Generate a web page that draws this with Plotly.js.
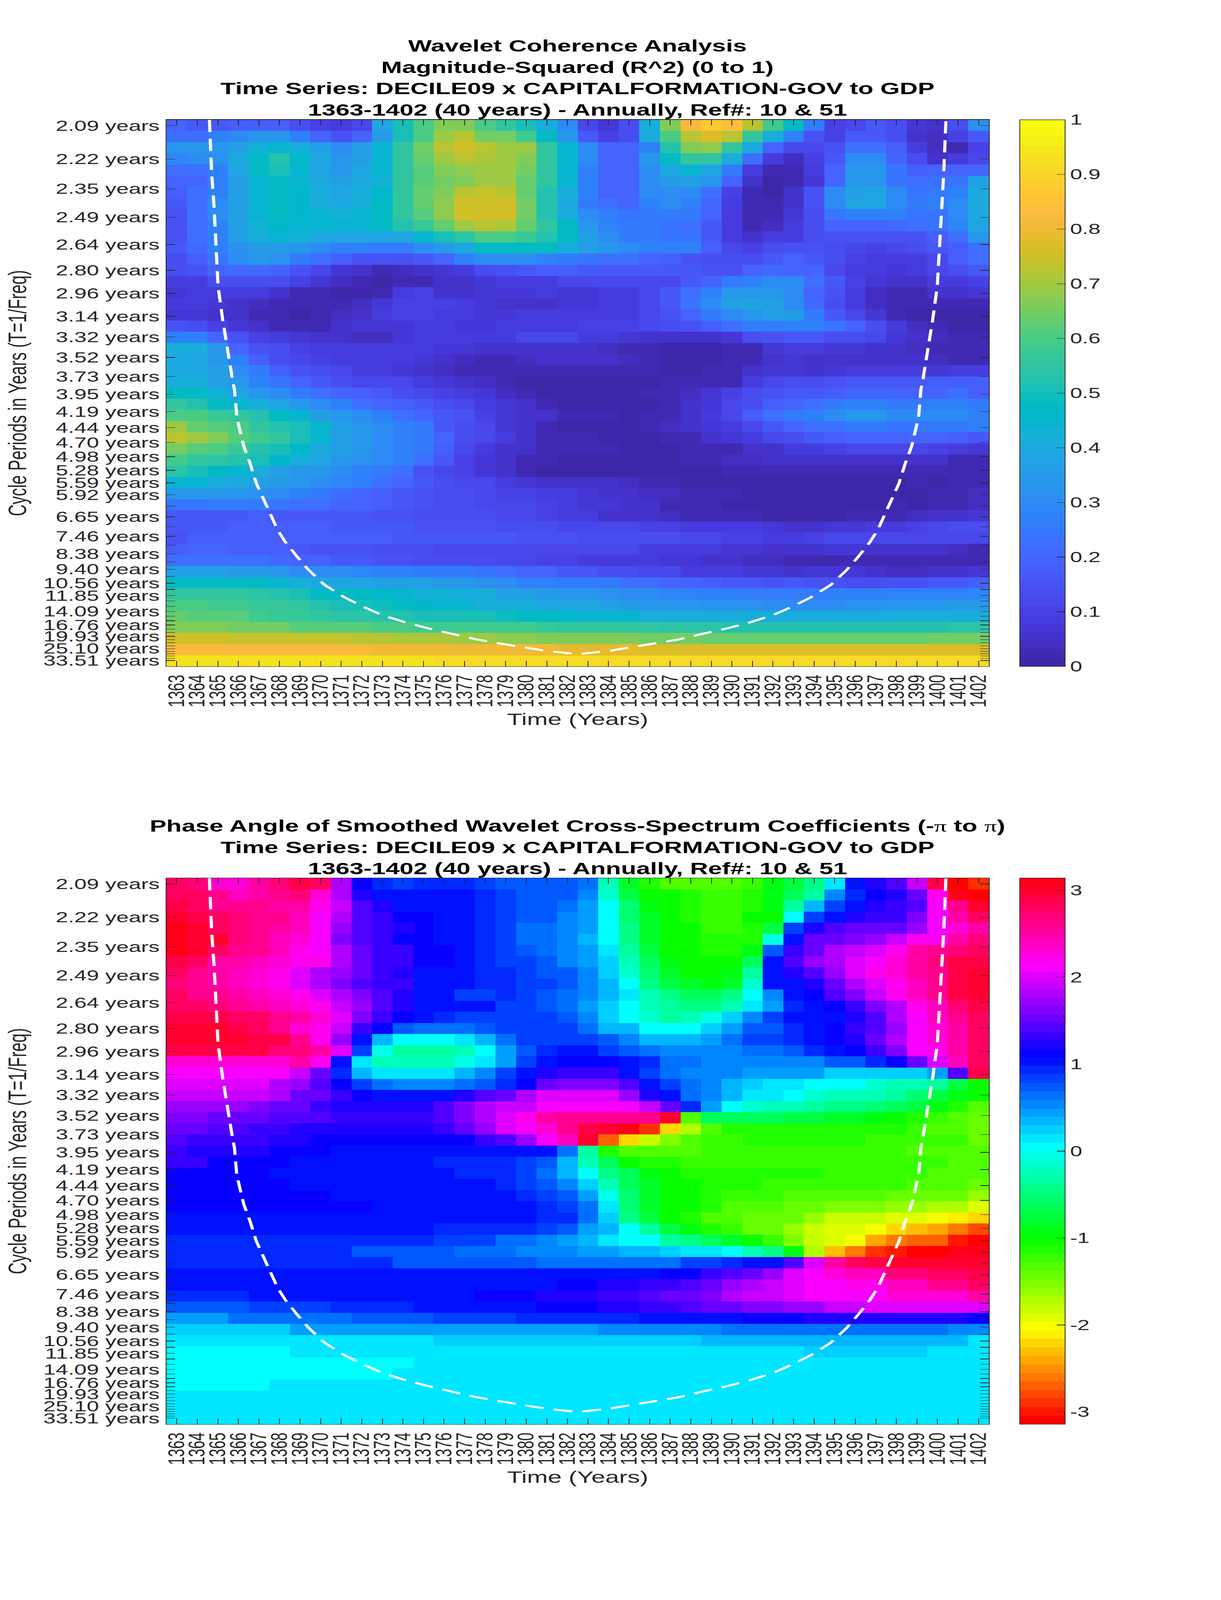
<!DOCTYPE html>
<html><head><meta charset="utf-8">
<script src="https://cdn.plot.ly/plotly-3.0.0.min.js"></script>
<style>html,body{margin:0;padding:0;background:#fff;overflow:hidden}#chart{transform-origin:0 0}</style></head>
<body><div id="chart" style="width:3125px;height:6252px"></div>
<script>
const years=[1363,1364,1365,1366,1367,1368,1369,1370,1371,1372,1373,1374,1375,1376,1377,1378,1379,1380,1381,1382,1383,1384,1385,1386,1387,1388,1389,1390,1391,1392,1393,1394,1395,1396,1397,1398,1399,1400,1401,1402];
const periodTicks=[2.09,2.22,2.35,2.49,2.64,2.80,2.96,3.14,3.32,3.52,3.73,3.95,4.19,4.44,4.70,4.98,5.28,5.59,5.92,6.27,6.65,7.04,7.46,7.90,8.38,8.88,9.40,9.96,10.56,11.18,11.85,12.55,13.30,14.09,14.93,15.82,16.76,17.76,18.81,19.93,21.11,22.37,23.70,25.10,26.59,28.17,29.85,31.62,33.51];
const unlabelled=[6.27,7.04,7.90,8.88,9.96,11.18,12.55,13.30,14.93,15.82,17.76,18.81,21.11,22.37,23.70,26.59,28.17,29.85,31.62];
const rowFreq=[.4787,.4694,.4600,.4506,.4413,.4319,.4226,.4132,.4038,.3945,.3851,.3758,.3664,.3570,.3477,.3383,.3290,.3196,.3103,.3009,.2915,.2822,.2728,.2635,.2541,.2447,.2354,.2260,.2167,.2073,.1979,.1886,.1792,.1699,.1605,.1511,.1418,.1324,.1231,.1137,.1043,.0950,.0856,.0763,.0669,.0575,.0482,.0388,.0295];
const coiYears=[1364.59,1364.70,1364.82,1364.89,1365.01,1365.24,1365.50,1365.73,1365.81,1365.92,1366.26,1366.57,1366.87,1367.14,1367.52,1367.90,1368.28,1368.85,1369.42,1370.18,1371.13,1372.08,1373.03,1374.17,1375.31,1376.45,1377.59,1378.73,1379.87,1381.01,1382.5,1383.99,1385.13,1386.27,1387.41,1388.55,1389.69,1390.83,1391.97,1392.92,1393.87,1394.82,1395.58,1396.15,1396.72,1397.10,1397.48,1397.86,1398.13,1398.43,1398.74,1399.08,1399.19,1399.27,1399.50,1399.76,1399.99,1400.11,1400.18,1400.30,1400.41];
const coiFreq=[.4834,.4379,.4091,.3804,.3439,.3151,.2864,.2634,.2568,.2340,.2095,.1951,.1786,.1683,.1539,.1396,.1293,.1170,.1057,.0934,.0831,.0749,.0677,.0616,.0565,.0522,.0475,.0441,.0411,.0378,.0352,.0378,.0411,.0441,.0475,.0522,.0565,.0616,.0677,.0749,.0831,.0934,.1057,.1170,.1293,.1396,.1539,.1683,.1786,.1951,.2095,.2340,.2568,.2634,.2864,.3151,.3439,.3804,.4091,.4379,.4834];
const coherence=[
[.2,.17,.17,.18,.18,.18,.14,.1,.08,.12,.38,.5,.6,.67,.67,.6,.55,.5,.42,.3,.12,.07,.14,.42,.67,.82,.87,.84,.72,.58,.47,.25,.1,.12,.16,.14,.07,.06,.13,.32],
[.22,.22,.27,.3,.33,.33,.28,.2,.15,.2,.35,.5,.6,.7,.72,.65,.65,.58,.48,.33,.17,.1,.13,.42,.6,.72,.78,.72,.55,.42,.27,.15,.1,.17,.16,.13,.05,.04,.1,.16],
[.33,.33,.33,.37,.43,.45,.42,.37,.31,.36,.45,.55,.65,.72,.75,.72,.7,.69,.55,.45,.3,.2,.2,.27,.53,.66,.68,.55,.4,.2,.11,.11,.15,.23,.23,.18,.09,.04,.03,.1],
[.29,.3,.32,.4,.48,.52,.46,.38,.33,.36,.45,.55,.64,.7,.72,.71,.7,.67,.56,.45,.3,.2,.2,.33,.47,.56,.55,.42,.22,.09,.04,.1,.17,.3,.3,.2,.13,.06,.08,.12],
[.22,.22,.28,.38,.47,.5,.45,.38,.34,.38,.45,.55,.62,.66,.68,.7,.7,.65,.56,.45,.28,.2,.2,.3,.4,.45,.38,.25,.09,.02,.02,.09,.2,.33,.33,.24,.18,.2,.2,.2],
[.2,.2,.27,.36,.45,.47,.45,.4,.37,.4,.43,.56,.62,.65,.67,.7,.7,.64,.56,.44,.28,.2,.2,.3,.35,.36,.33,.2,.06,.01,.02,.07,.2,.33,.34,.24,.22,.22,.24,.37],
[.18,.22,.28,.36,.44,.47,.46,.42,.38,.42,.46,.56,.63,.67,.72,.74,.72,.64,.53,.42,.28,.2,.2,.3,.3,.3,.22,.1,.03,.01,.05,.15,.3,.37,.38,.3,.24,.25,.28,.4],
[.16,.23,.3,.37,.45,.47,.46,.42,.4,.42,.48,.56,.63,.68,.75,.76,.75,.65,.53,.4,.26,.22,.2,.27,.3,.27,.2,.08,.02,.02,.06,.15,.3,.38,.38,.3,.25,.27,.3,.4],
[.15,.22,.3,.37,.44,.47,.46,.45,.43,.44,.48,.55,.62,.68,.75,.76,.75,.65,.53,.42,.3,.27,.24,.25,.26,.25,.19,.08,.03,.03,.07,.14,.24,.27,.27,.27,.24,.24,.3,.4],
[.15,.22,.28,.36,.43,.46,.45,.45,.44,.45,.48,.52,.57,.63,.7,.72,.71,.64,.55,.48,.33,.27,.25,.25,.24,.23,.17,.08,.03,.04,.08,.14,.19,.2,.2,.21,.22,.24,.29,.38],
[.15,.22,.28,.36,.42,.45,.43,.4,.38,.38,.38,.38,.44,.5,.54,.6,.6,.57,.53,.47,.36,.3,.26,.25,.24,.24,.17,.09,.05,.09,.09,.13,.15,.15,.15,.15,.15,.18,.23,.33],
[.17,.21,.27,.32,.35,.35,.33,.3,.28,.28,.26,.26,.3,.35,.4,.47,.48,.47,.47,.42,.36,.33,.3,.28,.27,.27,.18,.12,.1,.13,.15,.15,.13,.12,.1,.11,.13,.16,.18,.22],
[.14,.18,.24,.3,.33,.32,.26,.22,.18,.15,.15,.15,.17,.2,.27,.31,.31,.3,.28,.26,.24,.23,.22,.2,.18,.15,.13,.13,.14,.17,.2,.17,.14,.1,.09,.08,.09,.12,.18,.22],
[.13,.15,.2,.21,.21,.19,.15,.11,.07,.05,.03,.04,.06,.07,.09,.13,.15,.17,.18,.18,.17,.16,.16,.16,.16,.16,.15,.15,.2,.21,.2,.19,.12,.09,.08,.07,.08,.12,.13,.16],
[.08,.09,.13,.13,.14,.13,.1,.07,.04,.02,.01,.02,.03,.05,.06,.07,.08,.09,.09,.11,.11,.11,.12,.11,.12,.16,.2,.25,.28,.3,.3,.22,.16,.1,.07,.05,.05,.08,.09,.1],
[.07,.08,.09,.09,.08,.05,.03,.02,.01,.01,.03,.08,.1,.06,.06,.07,.07,.07,.08,.07,.07,.08,.09,.11,.16,.22,.28,.34,.34,.33,.3,.2,.15,.08,.04,.03,.03,.05,.06,.07],
[.08,.08,.07,.06,.04,.03,.02,.02,.03,.04,.07,.1,.1,.1,.09,.07,.05,.06,.06,.07,.07,.08,.09,.12,.17,.24,.3,.36,.38,.36,.3,.21,.13,.08,.04,.02,.02,.02,.02,.02],
[.07,.07,.06,.05,.03,.02,.01,.02,.04,.06,.08,.1,.1,.09,.08,.07,.07,.08,.08,.08,.08,.08,.09,.12,.15,.19,.26,.3,.34,.36,.35,.25,.17,.11,.07,.02,.01,.01,.01,.01],
[.15,.14,.1,.07,.05,.03,.03,.03,.05,.07,.07,.07,.08,.08,.07,.07,.09,.09,.09,.09,.1,.1,.1,.11,.13,.15,.18,.22,.25,.26,.28,.28,.24,.19,.13,.08,.04,.02,.01,.01],
[.27,.27,.2,.15,.1,.08,.07,.05,.05,.04,.04,.07,.08,.08,.08,.08,.09,.11,.11,.11,.08,.08,.07,.06,.05,.05,.05,.07,.13,.15,.16,.16,.14,.14,.11,.07,.05,.04,.03,.02],
[.42,.42,.34,.2,.15,.13,.1,.09,.08,.08,.08,.08,.08,.07,.07,.06,.06,.05,.05,.05,.05,.04,.03,.02,.01,.01,.01,.02,.03,.07,.08,.08,.07,.07,.06,.05,.04,.03,.03,.03],
[.4,.4,.35,.28,.18,.14,.12,.1,.09,.08,.08,.08,.07,.05,.04,.03,.03,.04,.05,.05,.05,.05,.04,.02,.01,.01,.01,.02,.03,.05,.07,.06,.05,.06,.06,.06,.05,.04,.03,.02],
[.4,.4,.36,.3,.25,.18,.15,.13,.11,.09,.08,.07,.06,.04,.03,.03,.02,.02,.03,.03,.03,.03,.02,.02,.01,.01,.02,.03,.06,.07,.07,.06,.07,.08,.09,.09,.08,.07,.09,.09],
[.41,.41,.37,.33,.28,.24,.2,.17,.13,.12,.11,.11,.09,.07,.06,.04,.02,.01,.01,.01,.01,.01,.01,.01,.02,.02,.02,.03,.09,.11,.13,.14,.15,.17,.17,.17,.17,.18,.18,.18],
[.47,.47,.43,.38,.34,.3,.26,.23,.2,.18,.16,.14,.12,.1,.08,.07,.04,.03,.01,.01,.01,.01,.01,.02,.03,.04,.07,.1,.13,.15,.16,.17,.18,.2,.2,.2,.19,.2,.22,.18],
[.55,.52,.48,.44,.42,.38,.33,.3,.28,.23,.2,.18,.16,.14,.11,.09,.07,.05,.03,.01,.01,.01,.01,.01,.03,.05,.07,.11,.14,.18,.2,.22,.25,.27,.27,.26,.26,.27,.28,.25],
[.6,.6,.57,.55,.52,.47,.44,.37,.33,.3,.27,.22,.19,.16,.15,.1,.07,.05,.05,.03,.02,.02,.01,.02,.03,.05,.08,.12,.18,.22,.25,.27,.3,.33,.33,.3,.3,.3,.3,.27],
[.7,.63,.62,.6,.55,.53,.5,.45,.37,.33,.3,.28,.25,.17,.14,.11,.07,.05,.03,.01,.01,.01,.01,.02,.04,.05,.07,.09,.12,.17,.19,.22,.23,.26,.25,.24,.24,.25,.25,.27],
[.72,.7,.66,.62,.58,.55,.5,.45,.36,.34,.31,.28,.25,.2,.14,.11,.08,.05,.03,.02,.02,.01,.01,.01,.02,.03,.05,.07,.08,.11,.14,.16,.18,.2,.2,.2,.2,.19,.18,.16],
[.65,.62,.6,.57,.53,.5,.46,.4,.36,.34,.31,.28,.25,.18,.11,.08,.06,.05,.03,.02,.02,.02,.01,.01,.01,.02,.02,.03,.05,.06,.08,.08,.1,.11,.11,.11,.11,.1,.09,.07],
[.58,.55,.54,.52,.5,.46,.42,.38,.34,.32,.3,.27,.22,.16,.1,.07,.06,.03,.02,.01,.01,.01,.01,.01,.01,.02,.03,.04,.04,.05,.05,.05,.06,.06,.06,.06,.05,.05,.03,.03],
[.54,.5,.47,.44,.42,.37,.33,.33,.3,.28,.25,.22,.15,.12,.1,.07,.05,.03,.01,.01,.01,.01,.01,.01,.01,.01,.01,.02,.02,.02,.02,.02,.02,.03,.03,.03,.02,.02,.02,.03],
[.44,.44,.42,.4,.37,.35,.33,.3,.29,.27,.23,.2,.17,.14,.12,.11,.08,.07,.06,.05,.06,.05,.04,.03,.02,.01,.01,.01,.01,.01,.01,.01,.01,.01,.01,.01,.02,.01,.02,.03],
[.33,.33,.33,.33,.32,.31,.28,.25,.22,.2,.18,.16,.15,.14,.13,.11,.1,.1,.09,.08,.07,.06,.05,.04,.04,.03,.02,.02,.01,.01,.01,.01,.01,.01,.01,.01,.01,.02,.03,.04],
[.24,.24,.25,.25,.25,.24,.23,.22,.2,.19,.18,.16,.15,.13,.13,.12,.11,.11,.1,.08,.07,.07,.06,.05,.03,.02,.02,.01,.01,.01,.01,.01,.01,.01,.01,.02,.01,.02,.03,.04],
[.16,.16,.17,.17,.18,.17,.17,.17,.16,.16,.15,.15,.14,.14,.13,.13,.12,.11,.1,.09,.08,.06,.06,.05,.04,.02,.02,.02,.02,.01,.01,.01,.01,.02,.03,.03,.04,.05,.06,.07],
[.16,.16,.17,.18,.18,.18,.18,.18,.17,.17,.17,.16,.15,.15,.15,.15,.14,.14,.13,.12,.11,.11,.11,.1,.1,.09,.09,.08,.08,.07,.05,.06,.07,.07,.08,.09,.1,.12,.13,.13],
[.15,.18,.18,.18,.18,.18,.18,.18,.18,.18,.18,.17,.17,.16,.16,.17,.17,.15,.15,.15,.14,.14,.14,.13,.13,.11,.11,.1,.1,.09,.09,.1,.11,.11,.11,.12,.12,.12,.11,.12],
[.18,.19,.19,.18,.18,.18,.17,.15,.15,.15,.14,.14,.13,.12,.12,.12,.12,.11,.11,.11,.11,.11,.11,.09,.09,.08,.08,.07,.07,.06,.06,.06,.07,.07,.06,.06,.05,.05,.04,.03],
[.23,.23,.23,.23,.22,.21,.19,.19,.17,.17,.15,.15,.14,.13,.13,.13,.12,.11,.1,.1,.09,.09,.08,.08,.07,.07,.06,.05,.04,.04,.03,.03,.03,.03,.03,.03,.02,.02,.02,.02],
[.36,.36,.36,.35,.35,.33,.31,.3,.3,.29,.28,.27,.26,.25,.25,.24,.22,.2,.19,.17,.16,.14,.13,.11,.11,.09,.09,.08,.07,.07,.06,.07,.07,.07,.06,.04,.04,.05,.06,.07],
[.47,.47,.47,.47,.47,.45,.42,.39,.38,.38,.37,.37,.36,.35,.34,.32,.3,.28,.27,.26,.25,.25,.23,.22,.2,.19,.18,.17,.16,.15,.16,.15,.15,.14,.14,.15,.15,.16,.17,.18],
[.56,.56,.56,.55,.54,.53,.51,.48,.48,.47,.46,.44,.43,.43,.42,.41,.37,.36,.35,.34,.33,.32,.31,.3,.29,.28,.27,.27,.26,.26,.26,.26,.27,.27,.27,.27,.27,.27,.28,.29],
[.6,.6,.59,.58,.57,.57,.55,.52,.51,.5,.49,.48,.46,.45,.45,.42,.41,.41,.39,.39,.38,.37,.35,.34,.33,.33,.32,.32,.32,.31,.31,.31,.31,.32,.32,.33,.34,.34,.35,.35],
[.63,.61,.61,.61,.59,.57,.57,.55,.54,.54,.53,.52,.51,.5,.5,.5,.49,.48,.47,.46,.45,.44,.44,.42,.42,.42,.42,.42,.42,.42,.41,.41,.41,.41,.41,.41,.42,.42,.42,.42],
[.67,.66,.66,.65,.65,.65,.62,.62,.62,.62,.6,.6,.58,.58,.58,.58,.58,.58,.57,.56,.55,.55,.55,.55,.54,.54,.54,.53,.53,.52,.52,.52,.52,.52,.52,.52,.52,.53,.54,.54],
[.75,.75,.75,.74,.74,.74,.74,.74,.74,.72,.72,.71,.71,.71,.7,.69,.68,.68,.67,.66,.66,.66,.66,.65,.65,.65,.64,.64,.64,.64,.64,.64,.64,.63,.63,.63,.63,.65,.65,.65],
[.82,.82,.82,.82,.82,.82,.82,.82,.82,.82,.81,.81,.8,.8,.8,.8,.8,.8,.8,.79,.79,.79,.79,.78,.78,.78,.78,.78,.78,.78,.78,.77,.77,.77,.78,.78,.78,.78,.78,.78],
[.93,.93,.93,.93,.93,.93,.93,.93,.93,.93,.93,.93,.93,.92,.92,.92,.92,.92,.92,.91,.91,.91,.91,.91,.91,.91,.91,.91,.91,.91,.91,.91,.91,.91,.91,.91,.91,.91,.91,.91]
];
const phase=[
[2.75,2.7,2.3,2.3,2.5,2.7,2.9,2.8,1.85,1.1,.9,.8,.9,.9,.9,.8,.75,.75,.75,.75,.6,-.2,-.85,-1.15,-1.3,-1.3,-1.3,-1.3,-1.25,-.9,-.7,-.45,.1,1.0,1.25,1.4,1.9,2.85,-3.05,-2.9],
[2.8,2.75,2.6,2.4,2.5,2.6,2.7,2.3,1.85,1.25,1.05,1.0,1.0,1.0,1.0,.9,.85,.7,.7,.7,.5,-.1,-.7,-1,-1.05,-1.15,-1.25,-1.25,-1.1,-.95,-.6,-.3,.5,.95,1.1,1.2,1.5,2.25,3.05,-3.05],
[2.9,2.8,2.65,2.65,2.6,2.55,2.5,2.2,1.9,1.45,1.25,1.05,1.05,1.05,1.0,.95,.85,.7,.7,.6,.4,0,-.55,-.95,-1.05,-1.15,-1.2,-1.2,-1.1,-.95,-.35,.3,.8,1.05,1.25,1.3,1.4,2.1,2.6,3],
[2.95,2.85,2.75,2.7,2.65,2.6,2.45,2.15,1.8,1.4,1.3,1.15,1.1,1.05,1.0,.95,.85,.75,.7,.55,.4,0,-.5,-.85,-1.05,-1.1,-1.2,-1.2,-1.05,-1.0,.05,.8,1.05,1.2,1.3,1.35,1.65,2.1,2.5,2.75],
[3.1,3.0,2.75,2.7,2.65,2.55,2.4,2.1,1.7,1.4,1.3,1.2,1.15,1.05,1.0,.95,.85,.6,.6,.5,.4,0,-.45,-.8,-1.0,-1.05,-1.2,-1.25,-1.1,-.7,.8,1.2,1.45,1.55,1.55,1.5,1.7,2.1,2.3,2.5],
[3.1,3.0,3.0,2.7,2.6,2.45,2.3,2.1,1.65,1.4,1.3,1.15,1.1,1.05,1.0,.95,.85,.6,.6,.5,.35,0,-.45,-.8,-1,-1.05,-1.15,-1.15,-1.1,-.05,1.05,1.5,1.55,1.6,1.75,1.9,2.2,2.25,2.55,2.7],
[3.05,2.95,2.8,2.65,2.6,2.45,2.2,2.1,1.8,1.5,1.35,1.3,1.15,1.1,1.0,.95,.85,.7,.6,.55,.4,.15,-.35,-.75,-1,-1.05,-1.1,-1.1,-.9,.7,1.3,1.5,1.85,1.95,2.05,2.2,2.5,2.6,2.7,2.8],
[2.85,2.75,2.55,2.5,2.45,2.3,2.2,2.2,1.85,1.55,1.35,1.3,1.15,1.1,1.05,.95,.85,.8,.7,.55,.45,.25,-.2,-.65,-.95,-1.0,-1.05,-1.05,-.6,1.0,1.45,1.7,1.8,2.0,2.15,2.3,2.5,2.7,2.85,2.9],
[2.75,2.65,2.55,2.45,2.35,2.25,2.05,1.85,1.7,1.5,1.35,1.25,1.05,1.05,1.0,.9,.9,.85,.7,.7,.5,.25,-.1,-.55,-.85,-1,-1,-.9,-.3,1,1.25,1.45,1.75,2,2.2,2.35,2.55,2.65,2.85,3],
[2.7,2.6,2.55,2.4,2.35,2.25,2.05,1.85,1.65,1.45,1.3,1.3,1.05,1,1,.9,.9,.85,.8,.7,.55,.3,.05,-.4,-.7,-.85,-.95,-.85,-.1,1,1.05,1.25,1.5,1.8,2.05,2.25,2.45,2.65,2.85,2.95],
[2.75,2.65,2.6,2.5,2.4,2.3,2.2,2.05,1.85,1.6,1.4,1.2,1,1,.85,.85,.9,.8,.75,.65,.5,.3,.1,-.2,-.4,-.6,-.65,-.4,.05,.5,1.05,1.15,1.4,1.65,1.95,2.2,2.4,2.65,2.85,2.95],
[2.8,2.75,2.7,2.65,2.55,2.4,2.3,2.2,1.9,1.7,1.45,1.2,1.05,1.05,1,1,.85,.85,.75,.65,.45,.25,.05,-.2,-.35,-.45,-.45,-.25,.1,.4,.9,1.05,1.15,1.35,1.6,1.85,2.2,2.45,2.7,2.85],
[2.9,2.9,2.9,2.8,2.8,2.6,2.5,2.3,2,1.6,1.35,1.1,1,.9,.85,.85,.85,.85,.85,.7,.55,.25,.05,-.15,-.3,-.2,-.05,.25,.55,.8,1,1.05,1.05,1.25,1.45,1.8,2.15,2.4,2.6,2.8],
[2.95,2.95,2.95,2.85,2.8,2.6,2.3,2.2,1.9,1.35,1.1,.7,.6,.6,.6,.7,.85,.85,.85,.8,.6,.35,.3,0,0,0,.2,.45,.75,.75,.95,1.05,1.15,1.3,1.45,1.75,2.15,2.35,2.55,2.75],
[2.95,2.95,2.95,2.95,2.85,2.85,2.6,2.2,1.7,1.05,.35,0,0,0,.1,.35,.6,.8,.8,.8,.8,.7,.5,.35,.35,.35,.4,.6,.8,.8,.9,1,1.1,1.25,1.55,1.8,2.1,2.3,2.55,2.75],
[2.9,2.9,2.9,2.9,2.9,2.7,2.7,2.55,2,.8,-.05,-.35,-.35,-.35,-.2,0,.4,.7,.95,1.05,1.05,.8,.7,.6,.5,.5,.5,.5,.65,.65,.7,.9,1.05,1.15,1.35,1.65,2.1,2.2,2.5,2.75],
[2.35,2.35,2.35,2.35,2.35,2.35,2.5,2.2,1.05,.1,-.2,-.2,-.2,-.2,-.05,.15,.4,.85,1.05,1.15,1.15,1.15,1.05,.9,.65,.65,.55,.55,.55,.55,.55,.55,.7,.7,.9,1.15,1.55,2.05,2.45,2.75],
[2.15,2.15,2.15,2.15,2.15,2.15,1.95,1.55,.9,.35,.1,.1,.1,.1,.35,.5,.8,1.05,1.2,1.3,1.3,1.3,1.05,.8,.6,.5,.5,.5,.4,.4,.4,.4,.25,.25,.25,.25,.25,.4,1.4,2.85],
[2,2,2,2,2,1.8,1.7,1.4,1.1,.8,.6,.5,.5,.5,.6,.75,.95,1.15,1.5,1.6,1.6,1.6,1.4,1.05,.8,.6,.5,.35,.25,.15,.15,.05,.05,0,-.1,-.25,-.25,-.35,-.7,-1.05],
[1.9,1.9,1.9,1.9,1.9,1.8,1.55,1.55,1.35,1.15,1.05,1.0,1.0,1.0,1.2,1.4,1.55,1.8,2.0,2.0,2.0,2.05,1.7,1.25,1.05,.6,.5,.3,.15,.1,0,-.1,-.2,-.2,-.2,-.35,-.55,-.75,-.9,-1.05],
[1.7,1.7,1.7,1.7,1.65,1.55,1.5,1.35,1.25,1.2,1.2,1.2,1.25,1.4,1.6,1.8,1.95,1.95,2.15,2.15,2.15,2.15,2.15,1.9,1.55,.9,.4,.05,-.15,-.2,-.25,-.3,-.4,-.45,-.55,-.6,-.7,-.9,-1.1,-1.3],
[1.6,1.6,1.55,1.55,1.55,1.45,1.45,1.45,1.3,1.3,1.3,1.3,1.35,1.45,1.6,1.85,2.05,2.2,2.5,2.6,2.6,2.6,2.6,2.65,2.95,-1.35,-.65,-.65,-.65,-.65,-.7,-.75,-.8,-.85,-.9,-1,-1.1,-1.2,-1.3,-1.4],
[1.5,1.5,1.45,1.45,1.35,1.35,1.25,1.25,1.25,1.25,1.25,1.25,1.25,1.35,1.5,1.75,2.0,2.15,2.35,2.65,2.9,3.0,3.14,-2.85,-2.25,-1.7,-1.35,-1.1,-1.1,-1.1,-1.1,-1.1,-1.1,-1.1,-1.1,-1.15,-1.25,-1.3,-1.3,-1.45],
[1.4,1.3,1.3,1.3,1.3,1.2,1.2,1.1,1.1,1.1,1.1,1.1,1.15,1.15,1.15,1.3,1.4,1.7,2.1,2.45,3,-2.7,-2.25,-1.8,-1.5,-1.3,-1.2,-1.2,-1.1,-1.1,-1.1,-1.1,-1.1,-1.1,-1.2,-1.2,-1.25,-1.25,-1.25,-1.4],
[1.3,1.25,1.25,1.25,1.25,1.15,1.15,1.15,1.05,1.05,1,1,1,1,1,1,1,1,1,.65,-.35,-1.1,-1.35,-1.35,-1.35,-1.3,-1.2,-1.2,-1.2,-1.2,-1.2,-1.2,-1.2,-1.2,-1.2,-1.2,-1.3,-1.3,-1.35,-1.35],
[1.3,1.3,1.15,1.15,1.15,1.15,1.05,1.05,1.05,1,1,1,1,.95,.95,.95,.9,.8,.7,.35,-.25,-.6,-1,-1.1,-1.1,-1.2,-1.2,-1.2,-1.2,-1.2,-1.2,-1.2,-1.2,-1.2,-1.25,-1.25,-1.25,-1.25,-1.35,-1.35],
[1.1,1.1,1.1,1.1,1.1,1.05,1.05,1.05,1.05,1.05,1,1,1,1,.95,.95,.9,.8,.65,.35,0,-.4,-.65,-.9,-1,-1.1,-1.1,-1.15,-1.15,-1.15,-1.15,-1.15,-1.25,-1.25,-1.25,-1.25,-1.25,-1.3,-1.3,-1.3],
[1.1,1.1,1.1,1.1,1.1,1.1,1.05,1.05,1.05,1.05,1.05,1.05,1,1,1,1,.95,.85,.7,.5,.2,-.25,-.6,-.85,-1,-1,-1.15,-1.15,-1.15,-1.2,-1.2,-1.2,-1.2,-1.2,-1.2,-1.2,-1.3,-1.3,-1.3,-1.4],
[1.1,1.1,1.1,1.1,1.1,1.1,1.15,1.15,1.05,1.05,1.05,1.05,1.05,1.05,1.05,1,1,.95,.85,.7,.45,-.05,-.5,-.8,-1,-1,-1.1,-1.25,-1.25,-1.25,-1.3,-1.3,-1.3,-1.3,-1.3,-1.4,-1.4,-1.45,-1.45,-1.6],
[1.1,1.1,1.1,1.1,1.1,1.15,1.15,1.15,1.15,1.15,1.05,1.05,1.05,1.05,1.05,1.05,1.05,1,.95,.85,.6,.1,-.55,-.8,-1,-1.05,-1.15,-1.3,-1.3,-1.3,-1.4,-1.4,-1.55,-1.55,-1.55,-1.65,-1.65,-1.75,-1.75,-1.9],
[1.05,1.05,1.05,1.05,1.05,1.05,1.05,1.05,1.05,1.05,1.05,1.05,1.05,1.05,1.05,1,1,1,.95,.9,.6,.25,-.4,-.7,-1,-1.1,-1.3,-1.3,-1.45,-1.45,-1.45,-1.65,-1.8,-1.8,-1.85,-1.95,-1.95,-2,-2.1,-2.25],
[1,1,1,1,1,1,1,1,1,1,1,1,1,.95,.95,.95,.9,.9,.8,.7,.45,.3,0,-.3,-.7,-.95,-1.1,-1.25,-1.45,-1.45,-1.65,-1.8,-1.9,-1.95,-2.05,-2.25,-2.35,-2.45,-2.6,-2.8],
[.95,.95,.95,.95,.95,.95,.95,.95,.95,.9,.9,.9,.9,.8,.8,.8,.65,.65,.5,.4,.35,.15,.05,0,-.3,-.45,-.6,-.85,-1.05,-1.25,-1.55,-1.8,-1.95,-2.05,-2.45,-2.65,-2.7,-2.7,-2.95,-3.05],
[.95,.95,.95,.9,.9,.9,.9,.9,.9,.75,.75,.75,.75,.75,.65,.65,.65,.55,.55,.55,.45,.45,.35,.35,.2,.1,.1,0,-.2,-.4,-.9,-1.7,-2.35,-2.65,-2.85,-2.95,-3.05,-3.05,3.14,3.05],
[.95,.95,.95,.9,.9,.9,.9,.9,.9,.9,.9,.75,.75,.75,.75,.75,.75,.75,.65,.65,.65,.65,.65,.65,.65,.8,.8,.9,1,1.05,1.4,2,2.5,2.8,2.9,2.95,2.95,2.95,3,3],
[1,1,1,1,1,1,1,1,1,1,1,1,1,1,1,1,1,1,1,1,1,1.05,1.05,1.05,1.1,1.15,1.3,1.4,1.55,1.75,2.05,2.1,2.3,2.45,2.45,2.7,2.7,2.8,2.8,2.9],
[1,1,1,1,1,1,1,1,1,1,1,1,1,1,1.05,1.05,1.05,1.05,1.05,1.15,1.15,1.25,1.25,1.35,1.35,1.45,1.55,1.7,1.8,1.9,2.05,2.1,2.1,2.25,2.25,2.45,2.45,2.6,2.6,2.75],
[.95,.95,.95,.95,1,1,1,1,1,1,1.05,1.05,1.05,1.05,1.05,1.15,1.15,1.15,1.25,1.25,1.25,1.3,1.3,1.4,1.5,1.5,1.6,1.8,1.9,1.9,2,2.1,2.1,2.1,2.15,2.3,2.3,2.35,2.35,2.55],
[.75,.75,.75,.75,.85,.85,.85,.85,.95,.95,.95,.95,1,1,1,1,1.05,1.05,1.15,1.15,1.15,1.25,1.25,1.3,1.3,1.4,1.5,1.5,1.6,1.6,1.7,1.7,1.9,1.9,2,2,2,2,2,2],
[.45,.45,.45,.6,.6,.6,.6,.6,.6,.7,.7,.7,.7,.8,.8,.8,.8,.9,.9,.9,.95,.95,.95,1,1,1.05,1.05,1.05,1.15,1.15,1.15,1.2,1.2,1.2,1.2,1.2,1.2,1.2,1.2,1.15],
[.25,.25,.25,.25,.25,.25,.4,.4,.4,.4,.4,.4,.4,.4,.4,.45,.45,.45,.45,.45,.45,.55,.55,.55,.55,.55,.55,.65,.65,.65,.65,.65,.65,.65,.65,.65,.65,.65,.55,.55],
[.1,.1,.1,.1,.1,.1,.1,.1,.1,.1,.1,.1,.1,.2,.2,.2,.2,.2,.2,.2,.2,.2,.2,.2,.2,.2,.3,.3,.3,.3,.3,.3,.3,.3,.3,.3,.3,.3,.3,.15],
[0,0,0,0,0,0,.1,.1,.1,.1,.1,.1,.1,.1,.1,.1,.1,.1,.1,.1,.1,.1,.1,.1,.1,.1,.1,.1,.1,.1,.1,.2,.2,.2,.2,.2,.2,.1,.1,.1],
[0,0,0,0,0,0,0,0,0,0,0,0,.1,.1,.1,.1,.1,.1,.1,.1,.1,.1,.1,.1,.1,.1,.1,.1,.1,.1,.1,.1,.1,.1,.1,.1,.1,.1,.1,.1],
[0,0,0,0,0,0,0,0,0,0,0,.1,.1,.1,.1,.1,.1,.1,.1,.1,.1,.1,.1,.1,.1,.1,.1,.1,.1,.1,.1,.1,.1,.1,.1,.1,.1,.1,.1,.1],
[0,0,0,0,0,.1,.1,.1,.1,.1,.1,.1,.1,.1,.1,.1,.1,.1,.1,.1,.1,.1,.1,.1,.1,.1,.1,.1,.1,.1,.1,.1,.1,.1,.1,.1,.1,.1,.1,.1],
[.1,.1,.1,.1,.1,.1,.1,.1,.1,.1,.1,.1,.1,.1,.1,.1,.1,.1,.1,.1,.1,.1,.1,.1,.1,.1,.1,.1,.1,.1,.1,.1,.1,.1,.1,.1,.1,.1,.1,.1],
[.1,.1,.1,.1,.1,.1,.1,.1,.1,.1,.1,.1,.1,.1,.1,.1,.1,.1,.1,.1,.1,.1,.1,.1,.1,.1,.1,.1,.1,.1,.1,.1,.1,.1,.1,.1,.1,.1,.1,.1],
[.1,.1,.1,.1,.1,.1,.1,.1,.1,.1,.1,.1,.1,.1,.1,.1,.1,.1,.1,.1,.1,.1,.1,.1,.1,.1,.1,.1,.1,.1,.1,.1,.1,.1,.1,.1,.1,.1,.1,.1]
];
const coh_ticks=[0,.1,.2,.3,.4,.5,.6,.7,.8,.9,1];
const coh_ticktext=['0','0.1','0.2','0.3','0.4','0.5','0.6','0.7','0.8','0.9','1'];
const phase_ticks=[-3,-2,-1,0,1,2,3];
const phase_ticktext=['-3','-2','-1','0','1','2','3'];

const parula=[[.2422,.1504,.6603],[.2504,.165,.7076],[.2578,.1818,.7511],[.2647,.1978,.7952],[.2706,.2147,.8364],[.2751,.2342,.871],[.2783,.2559,.8991],[.2803,.2782,.9221],[.2813,.3006,.9414],[.281,.3228,.9579],[.2795,.3447,.9717],[.276,.3667,.9829],[.2699,.3892,.9906],[.2602,.4123,.9952],[.244,.4358,.9988],[.2206,.4603,.9973],[.1963,.4847,.9892],[.1834,.5074,.9798],[.1786,.5289,.9682],[.1764,.5499,.952],[.1687,.5703,.9359],[.154,.5902,.9218],[.146,.6091,.9079],[.138,.6276,.8973],[.1248,.6459,.8883],[.1113,.6635,.8763],[.0952,.6798,.8598],[.0689,.6948,.8394],[.0297,.7082,.8163],[.0036,.7203,.7917],[.0067,.7312,.766],[.0433,.7411,.7394],[.0964,.75,.712],[.1408,.7584,.6842],[.1717,.767,.6554],[.1938,.7758,.6251],[.2161,.7843,.5923],[.247,.7918,.5567],[.2906,.7973,.5188],[.3406,.8008,.4789],[.3909,.8029,.4354],[.4456,.8024,.3909],[.5044,.7993,.348],[.5616,.7942,.3045],[.6174,.7876,.2612],[.672,.7793,.2227],[.7242,.7698,.191],[.7738,.7598,.1646],[.8203,.7498,.1535],[.8634,.7406,.1596],[.9035,.733,.1774],[.9393,.7288,.21],[.9728,.7312,.2394],[.9956,.7434,.2371],[.997,.7659,.2199],[.9952,.7861,.199],[.9892,.8086,.1816],[.9786,.8317,.1641],[.9676,.8553,.1426],[.961,.8805,.1147],[.9597,.9062,.0964],[.9628,.9373,.0815],[.9691,.9606,.0661],[.9769,.9839,.0805]];
function stepped(cols){const n=cols.length,out=[];cols.forEach((c,i)=>{const s='rgb('+c.map(v=>Math.round(v*255)).join(',')+')';out.push([i/n,s]);out.push([(i+1)/n,s]);});return out;}
function hsv64(){const r=[];for(let i=0;i<64;i++){const h=i/64*6,f=h-Math.floor(h),k=Math.floor(h)%6;r.push([[1,f,0],[1-f,1,0],[0,1,f],[0,1-f,1],[f,0,1],[1,0,1-f]][k]);}return r;}

const INK='#262626',FONT='"Liberation Sans", Arial, sans-serif';
const PW=3125,PH=6252,L=426,R=2531,T1=468,B1=2604,T2=3431,B2=5565;
const yTickVals=periodTicks.map(t=>1/t);
const yTickText=periodTicks.map(t=>unlabelled.includes(t)?'':t.toFixed(2)+' years');
function xAxis(anchor){return {domain:[L/PW,R/PW],anchor,range:[1362.5,1402.5],tickmode:'array',tickvals:years,ticktext:years.map(String),tickangle:-90,ticks:'inside',ticklen:22,tickwidth:2,tickcolor:INK,mirror:'allticks',showline:true,linecolor:INK,linewidth:2,showgrid:false,zeroline:false,ticklabelstandoff:8,tickfont:{family:FONT,size:57,color:INK},title:{text:'Time (Years)',standoff:26,font:{family:FONT,size:64,color:INK}}};}
function yAxis(anchor,top,bottom){return {domain:[1-bottom/PH,1-top/PH],anchor,range:[.0249,.4834],tickmode:'array',tickvals:yTickVals,ticktext:yTickText,ticks:'inside',ticklen:22,tickwidth:2,tickcolor:INK,mirror:'allticks',showline:true,linecolor:INK,linewidth:2,showgrid:false,zeroline:false,ticklabelstandoff:4,tickfont:{family:FONT,size:57,color:INK},title:{text:'Cycle Periods in Years (T=1/Freq)',standoff:22,font:{family:FONT,size:64,color:INK}}};}
function cbar(top,bottom,vals,text){return {x:2610/PW,xref:'paper',xanchor:'left',y:1-(top+bottom)/2/PH,yref:'paper',yanchor:'middle',len:(bottom-top)/PH,lenmode:'fraction',thickness:116,thicknessmode:'pixels',xpad:0,ypad:0,outlinecolor:INK,outlinewidth:2,ticks:'inside',ticklen:22,tickwidth:2,tickcolor:INK,tickmode:'array',tickvals:vals,ticktext:text,tickfont:{family:FONT,size:56,color:INK}};}
const coiLine={color:'#ffffff',width:8,dash:'48px,26px'};
const PI_SPAN='<span style="font-family:\'Liberation Serif\';font-weight:normal">π</span>';
const data=[
{type:'heatmap',x:years,y:rowFreq,z:coherence,zmin:0,zmax:1,colorscale:stepped(parula),xaxis:'x',yaxis:'y',colorbar:cbar(T1,B1,coh_ticks,coh_ticktext)},
{type:'scatter',mode:'lines',x:coiYears,y:coiFreq,xaxis:'x',yaxis:'y',line:coiLine,showlegend:false,hoverinfo:'skip'},
{type:'heatmap',x:years,y:rowFreq,z:phase,zmin:-Math.PI,zmax:Math.PI,colorscale:stepped(hsv64()),xaxis:'x2',yaxis:'y2',colorbar:cbar(T2,B2,phase_ticks,phase_ticktext)},
{type:'scatter',mode:'lines',x:coiYears,y:coiFreq,xaxis:'x2',yaxis:'y2',line:coiLine,showlegend:false,hoverinfo:'skip'}
];
const layout={width:PW,height:PH,autosize:false,margin:{l:0,r:0,t:0,b:0},paper_bgcolor:'#fff',plot_bgcolor:'#fff',showlegend:false,font:{family:FONT,color:INK},
title:{text:'<b>Wavelet Coherence Analysis<br>Magnitude-Squared (R^2) (0 to 1)<br>Time Series: DECILE09 x CAPITALFORMATION-GOV to GDP<br>1363-1402 (40 years) - Annually, Ref#: 10 & 51</b>',x:1478/PW,xanchor:'center',xref:'paper',y:1-202/PH,yanchor:'top',font:{family:FONT,size:64,color:'#000'}},
xaxis:xAxis('y'),yaxis:yAxis('x',T1,B1),xaxis2:xAxis('y2'),yaxis2:yAxis('x2',T2,B2),
annotations:[{xref:'paper',yref:'paper',x:1478/PW,y:1-3311/PH,xanchor:'center',yanchor:'middle',showarrow:false,align:'center',font:{family:FONT,size:64,color:'#000'},text:'<b>Phase Angle of Smoothed Wavelet Cross-Spectrum Coefficients (-'+PI_SPAN+' to '+PI_SPAN+')<br>Time Series: DECILE09 x CAPITALFORMATION-GOV to GDP<br>1363-1402 (40 years) - Annually, Ref#: 10 & 51</b>'}]};
Plotly.newPlot('chart',data,layout,{displayModeBar:false,staticPlot:true}).then(function(){
  // The sandbox window may be shorter than the 6252 px page: fit the page into it so nothing is cut.
  const k=Math.min(1,window.innerHeight/PH);
  if(k<1){document.getElementById('chart').style.transform='scale(1,'+k+')';}
});
</script></body></html>
